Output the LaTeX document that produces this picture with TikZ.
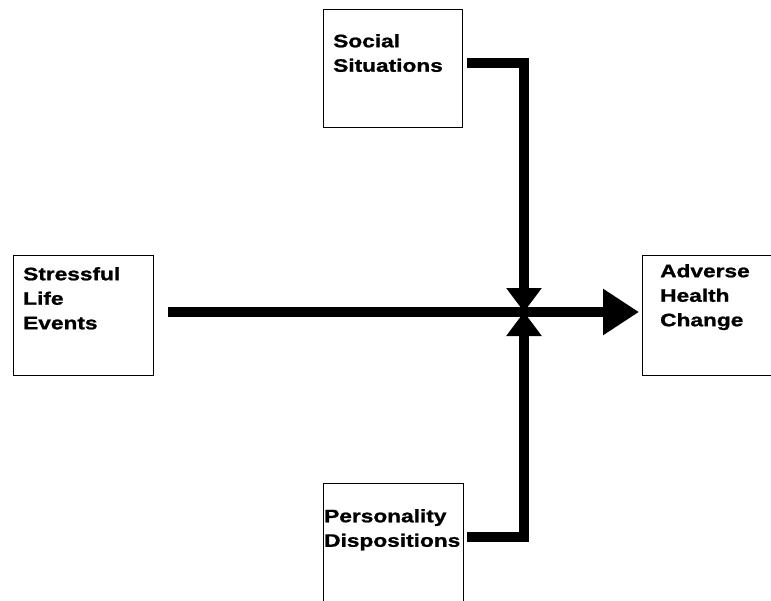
\documentclass[tikz,border=0pt]{standalone}
\usepackage{fontspec}
\setmainfont{Liberation Sans}[BoldFeatures={FakeStretch=1.26,FakeBold=1.2}]
\usetikzlibrary{arrows.meta}
\begin{document}
\begin{tikzpicture}[x=1pt,y=-1pt,
  box/.style={draw=black,line width=1.1pt},
  lbl/.style={anchor=north west,inner sep=0pt,align=left,
    font=\fontsize{18}{24.5}\selectfont\bfseries},
  thick line/.style={line width=10pt,line cap=butt,line join=miter},
  joint/.style={thick line,-{Triangle[length=24pt,width=34pt]}},
  lead/.style={thick line,-{Triangle[length=36pt,width=44pt]}}]
  \useasboundingbox (0,0) rectangle (771,600);

  % boxes
  \node[box,minimum width=139pt,minimum height=118pt,anchor=north west] (soc) at (323,9) {};
  \node[box,minimum width=140pt,minimum height=120pt,anchor=north west] (str) at (13,255) {};
  \node[box,minimum width=140pt,minimum height=120pt,anchor=north west] (adv) at (642,255) {};
  \node[box,minimum width=140pt,minimum height=130pt,anchor=north west] (per) at (323,483) {};

  % labels
  \node[lbl] (socT) at (333,34) {Social\\Situations};
  \node[lbl] (strT) at (23,267) {Stressful\\Life\\Events};
  \node[lbl] (advT) at (660,264) {Adverse\\Health\\Change};
  \node[lbl] (perT) at (324,509) {Personality\\Dispositions};

  % junction and line starts
  \coordinate (j) at (524,312);
  \coordinate (s0) at (467,63);
  \coordinate (p0) at (467,537);
  \coordinate (m0) at (168,312);
  \coordinate (a1) at ([xshift=-3pt]adv.west |- j);

  % connectors
  \draw[thick line] (m0) -- (j);
  \draw[lead] (j) -- (a1);
  \draw[joint] (s0) -| (j);
  \draw[joint] (p0) -| (j);
\end{tikzpicture}
\end{document}
